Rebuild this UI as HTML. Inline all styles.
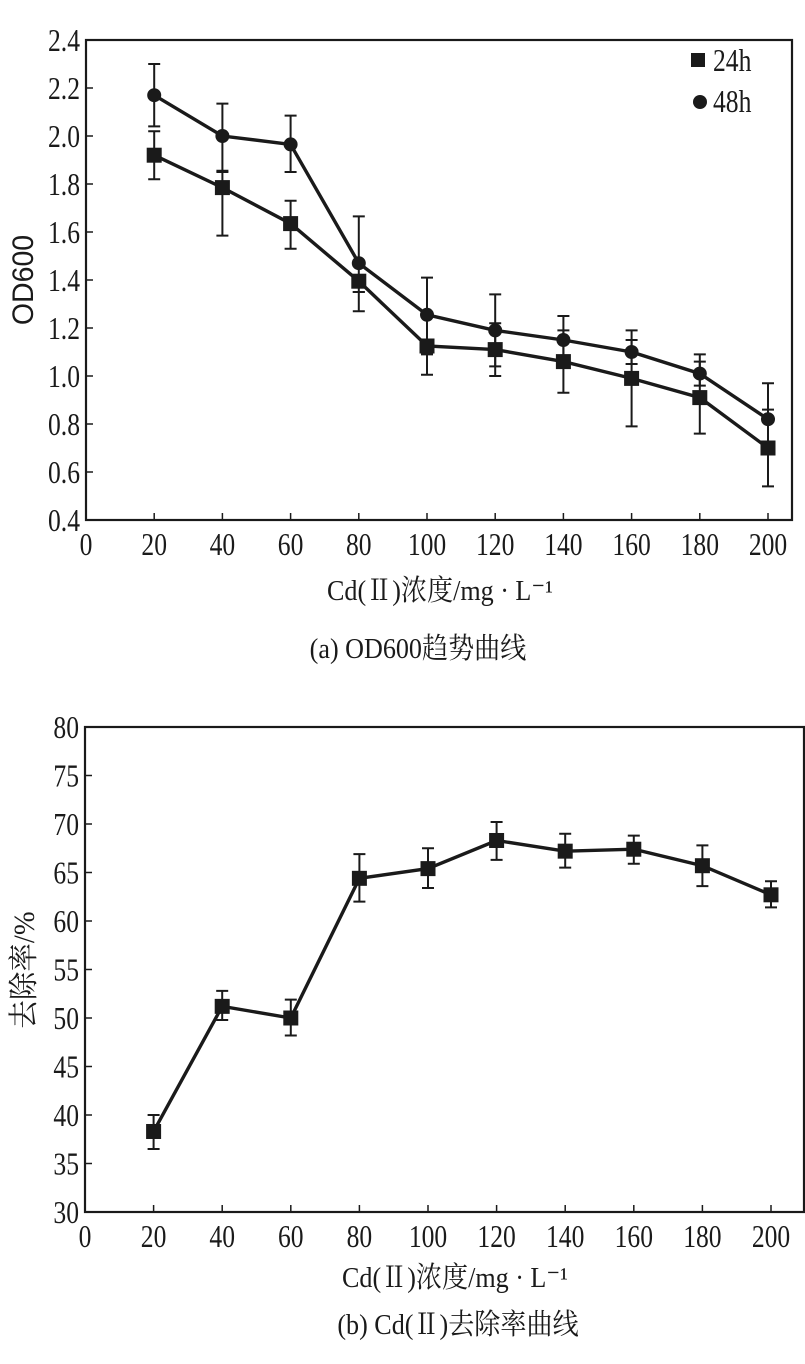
<!DOCTYPE html>
<html><head><meta charset="utf-8"><style>
html,body{margin:0;padding:0;background:#fff;width:805px;height:1364px;overflow:hidden}
svg text{font-family:"Liberation Serif","Noto Serif CJK SC",serif;fill:#1a1a1a}
</style></head><body>
<svg id="svg" width="805" height="1364" xmlns="http://www.w3.org/2000/svg"></svg>
<script>
const categories=[20,40,60,80,100,120,140,160,180,200];
const od24=[1.92,1.785,1.635,1.395,1.125,1.11,1.06,0.99,0.91,0.70];
const od24Lo=[1.82,1.585,1.53,1.27,1.005,1.0,0.93,0.79,0.76,0.54];
const od24Hi=[2.02,1.855,1.73,1.35,1.09,1.22,1.19,1.15,1.06,0.86];
const od48=[2.17,2.0,1.965,1.47,1.255,1.19,1.15,1.10,1.01,0.82];
const od48Lo=[2.04,1.85,1.85,1.35,1.1,1.04,1.07,1.05,0.96,0.70];
const od48Hi=[2.30,2.135,2.085,1.665,1.41,1.34,1.25,1.19,1.09,0.97];
const rem=[38.3,51.2,50.0,64.4,65.4,68.3,67.2,67.4,65.7,62.7];
const remLo=[36.5,49.8,48.2,62.0,63.4,66.3,65.5,65.9,63.6,61.4];
const remHi=[40.0,52.8,51.9,66.9,67.5,70.2,69.0,68.8,67.8,64.1];
const xTicks=[0,20,40,60,80,100,120,140,160,180,200];
const odTicks=["0.4","0.6","0.8","1.0","1.2","1.4","1.6","1.8","2.0","2.2","2.4"];
const remTicks=["30","35","40","45","50","55","60","65","70","75","80"];

const svg=document.getElementById('svg');
const NS='http://www.w3.org/2000/svg';
function mk(tag,attrs,parent){const e=document.createElementNS(NS,tag);for(const k in attrs)e.setAttribute(k,attrs[k]);(parent||svg).appendChild(e);return e;}
function ctext(s,x,y,anchor,size,sx,parent){
  const t=mk('text',{x:0,y:0,'text-anchor':anchor,'font-size':size,transform:`translate(${x},${y}) scale(${sx},1)`},parent);
  t.textContent=s;return t;
}

function chart(name,box,ymin,ymax,yTicks,series){
  const g=mk('g',{});
  
  
  const X=v=>box.x0+(v/20)*box.px20;
  const Y=v=>box.y1-(v-ymin)/(ymax-ymin)*(box.y1-box.y0);
  const fr=mk('rect',{x:box.x0,y:box.y0,width:box.x1-box.x0,height:box.y1-box.y0,fill:'none',stroke:'#1a1a1a','stroke-width':2.2},g);
  
  
  xTicks.forEach(t=>{
    const x=X(t);
    if(t>0)mk('line',{x1:x,x2:x,y1:box.y1,y2:box.y1-7,stroke:'#1a1a1a','stroke-width':1.5},g);
    const tx=ctext(String(t),x,box.y1+35,'middle',32,0.8,g);
    
    
  });
  yTicks.forEach(s=>{
    const y=Y(parseFloat(s));
    mk('line',{x1:box.x0,x2:box.x0+7,y1:y,y2:y,stroke:'#1a1a1a','stroke-width':1.5},g);
    const tx=ctext(s,box.x0-6,y+11,'end',32,0.8,g);
    
    
  });
  series.forEach(sr=>{
    const sg=mk('g',{},g);
    
    
    const pts=categories.map((c,i)=>X(c)+','+Y(sr.v[i])).join(' ');
    mk('polyline',{points:pts,fill:'none',stroke:'#1a1a1a','stroke-width':3.4},sg);
    categories.forEach((c,i)=>{
      const x=X(c),yl=Y(sr.lo[i]),yh=Y(sr.hi[i]);
      mk('path',{d:`M${x},${yl}V${yh}M${x-6},${yl}H${x+6}M${x-6},${yh}H${x+6}`,stroke:'#1a1a1a','stroke-width':2,fill:'none'},sg);
      let m;
      if(sr.marker==='square')m=mk('rect',{x:x-7.5,y:Y(sr.v[i])-7.5,width:15,height:15,fill:'#1a1a1a'},sg);
      else m=mk('circle',{cx:x,cy:Y(sr.v[i]),r:7,fill:'#1a1a1a'},sg);
      
      
    });
  });
  return g;
}

chart('od600-chart',{x0:86,x1:792,y0:40,y1:520,px20:68.2},0.4,2.4,odTicks,[
  {name:'series-24h',v:od24,lo:od24Lo,hi:od24Hi,marker:'square'},
  {name:'series-48h',v:od48,lo:od48Lo,hi:od48Hi,marker:'circle'}]);
chart('removal-chart',{x0:85,x1:804,y0:727,y1:1212,px20:68.6},30,80,remTicks,[
  {name:'series-removal',v:rem,lo:remLo,hi:remHi,marker:'square'}]);

function txt(s,x,y,size,sx,name,rot,anchor){
  const t=mk('text',{x:0,y:0,'text-anchor':anchor||'middle','font-size':size,transform:`translate(${x},${y})${rot?' rotate(-90)':''} scale(${sx},1)`});
  t.textContent=s;return t;}
// legend
const l1=mk('rect',{x:691,y:53,width:14,height:14,fill:'#1a1a1a'});


txt('24h',713,71,32,0.8,'legend-label-24h',false,'start');
const l2=mk('circle',{cx:700,cy:102,r:7,fill:'#1a1a1a'});


txt('48h',713,112,32,0.8,'legend-label-48h',false,'start');
// axis titles
const od=txt('OD600',33,280,30,0.95,'y-axis-title-od',true);
od.style.fontFamily='"Liberation Sans",sans-serif';
txt('Cd(Ⅱ)浓度/mg · L⁻¹',440,600,29,0.9,'x-axis-title-top');
txt('(a) OD600趋势曲线',418,658,29,0.9,'caption-a');
txt('去除率/%',34,970,30,0.95,'y-axis-title-removal',true);
txt('Cd(Ⅱ)浓度/mg · L⁻¹',455,1287,29,0.9,'x-axis-title-bottom');
txt('(b) Cd(Ⅱ)去除率曲线',458,1334,29,0.9,'caption-b');
</script>
</body></html>
